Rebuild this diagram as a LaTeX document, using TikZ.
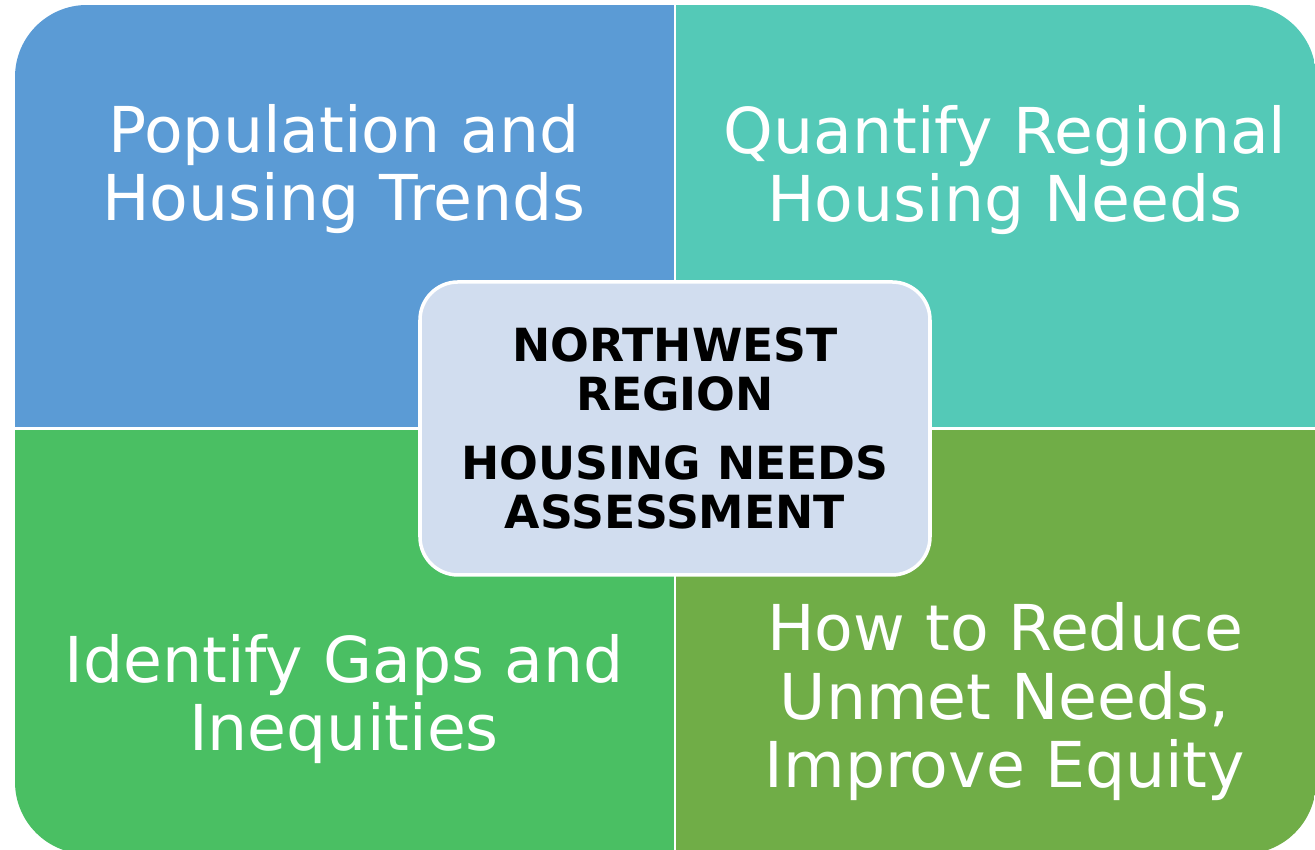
\documentclass[tikz,border=0pt]{standalone}
\usepackage{fontspec}
\setmainfont{DejaVu Sans}
\usetikzlibrary{positioning}
\def\TrendColor{rgb,255:red,91;green,155;blue,213}
\def\NeedColor{rgb,255:red,84;green,201;blue,183}
\def\GapColor{rgb,255:red,74;green,191;blue,99}
\def\EquityColor{rgb,255:red,112;green,173;blue,71}
\def\HubColor{rgb,255:red,209;green,221;blue,239}

\begin{document}
\begin{tikzpicture}
\tikzstyle{quadtext} = [text=white, align=center, inner sep=0pt, font=\fontsize{18}{19.5}\selectfont]
\tikzstyle{divider} = [draw=white, line width=0.8pt]
\tikzstyle{hub} = [rectangle, draw=white, line width=1pt, fill=\HubColor, rounded corners=0.38cm, minimum width=5.1cm, minimum height=2.93cm, align=center, font=\bfseries\fontsize{13}{13.9}\selectfont]

\useasboundingbox (0,0) rectangle (13.15,8.5);

% four quadrants inside one rounded outline
\begin{scope}
\clip [rounded corners=0.72cm] (0.15,-0.04) rectangle (13.16,8.45);
\fill [fill=\TrendColor] (0.15,4.215) rectangle (6.75,8.45);
\fill [fill=\NeedColor] (6.75,4.215) rectangle (13.16,8.45);
\fill [fill=\GapColor] (0.15,-0.04) rectangle (6.75,4.215);
\fill [fill=\EquityColor] (6.75,-0.04) rectangle (13.16,4.215);
\path [divider] (6.75,-0.04) -- (6.75,8.45);
\path [divider] (0.15,4.215) -- (13.16,4.215);
\end{scope}

\node [quadtext] at (3.44,6.81) (trends) {Population and\\Housing Trends};
\node [quadtext] at (10.05,6.80) (needs) {Quantify Regional\\Housing Needs};
\node [quadtext] at (3.44,1.51) (gaps) {Identify Gaps and\\Inequities};
\node [quadtext] at (10.05,1.48) (equity) {How to Reduce\\Unmet Needs,\\Improve Equity};

\node [hub] at (6.75,4.215) (hna) {NORTHWEST\\REGION\\[0.2cm]HOUSING NEEDS\\ASSESSMENT};

\end{tikzpicture}
\end{document}
